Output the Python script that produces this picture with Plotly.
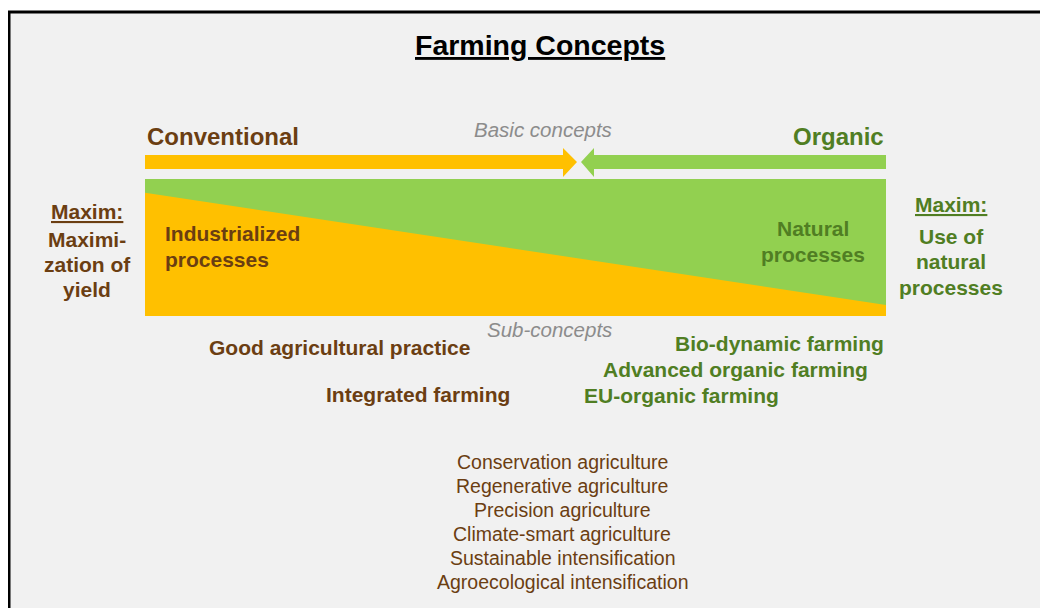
import plotly.graph_objects as go

# ---------------- data ----------------
title = "Farming Concepts"
basic_concepts = ["Conventional", "Organic"]
basic_label = "Basic concepts"
sub_label = "Sub-concepts"
left_maxim = ["Maximi-", "zation of", "yield"]
right_maxim = ["Use of", "natural", "processes"]
left_process = ["Industrialized", "processes"]
right_process = ["Natural", "processes"]
# share of the band that is "conventional" (orange) at left and right end
band_ends = [0.0, 1.0]
conventional_share = [0.90, 0.08]
conv_sub = ["Good agricultural practice", "Integrated farming"]
org_sub = ["Bio-dynamic farming", "Advanced organic farming", "EU-organic farming"]
other_concepts = [
    "Conservation agriculture",
    "Regenerative agriculture",
    "Precision agriculture",
    "Climate-smart agriculture",
    "Sustainable intensification",
    "Agroecological intensification",
]

# ---------------- style ----------------
W, H = 1048, 608
OFF = 8  # page body margin
ORANGE = "#FFC000"
GREEN = "#92D050"
BROWN = "#6B3E12"
DGREEN = "#507E23"
GRAY = "#8C8C8C"
BG = "#F1F1F1"
FONT = "Liberation Sans, Arial, sans-serif"

X0, X1 = 145, 886          # band extent
BT, BB = 179, 316          # band top / bottom

fig = go.Figure()

# band: green full, orange wedge
fig.add_trace(go.Scatter(x=[X0, X1, X1, X0], y=[BT, BT, BB, BB], fill="toself",
                         fillcolor=GREEN, line=dict(width=0), mode="lines",
                         hoverinfo="skip", showlegend=False))
bx = [X0 + f * (X1 - X0) for f in band_ends]
by = [BB - s * (BB - BT) for s in conventional_share]
fig.add_trace(go.Scatter(x=[bx[0], bx[1], bx[1], bx[0]], y=[by[0], by[1], BB, BB],
                         fill="toself", fillcolor=ORANGE, line=dict(width=0),
                         mode="lines", hoverinfo="skip", showlegend=False))

# arrows
ay0, ay1, hy0, hy1 = 155, 169, 148, 177
amid = (ay0 + ay1) / 2
ox = [X0, 563, 563, 577, 563, 563, X0]
oy = [ay0, ay0, hy0, amid, hy1, ay1, ay1]
fig.add_trace(go.Scatter(x=ox, y=oy, fill="toself", fillcolor=ORANGE,
                         line=dict(width=0), mode="lines", hoverinfo="skip",
                         showlegend=False))
gx = [X1, 594, 594, 581, 594, 594, X1]
fig.add_trace(go.Scatter(x=gx, y=oy, fill="toself", fillcolor=GREEN,
                         line=dict(width=0), mode="lines", hoverinfo="skip",
                         showlegend=False))

ann = []


def txt(text, x, y, size, color, bold=True, italic=False, xanchor="center"):
    t = text
    if bold:
        t = "<b>" + t + "</b>"
    if italic:
        t = "<i>" + t + "</i>"
    ann.append(dict(text=t, x=x, y=y, xref="x", yref="y", showarrow=False,
                    xanchor=xanchor, yanchor="middle",
                    font=dict(family=FONT, size=size, color=color)))


txt("<u>" + title + "</u>", 540, 45, 28.5, "#000000")
txt(basic_concepts[0], 145, 136, 24, BROWN, xanchor="left")
txt(basic_concepts[1], 886, 136, 24, DGREEN, xanchor="right")
txt(basic_label, 543, 129, 20.5, GRAY, bold=False, italic=True)
txt(sub_label, 549, 329, 20.5, GRAY, bold=False, italic=True)

txt("<u>Maxim:</u>", 87, 211, 21, BROWN)
for i, s in enumerate(left_maxim):
    txt(s, 87, 239 + i * 25, 21, BROWN)
txt("<u>Maxim:</u>", 951, 204, 21, DGREEN)
for i, s in enumerate(right_maxim):
    txt(s, 951, 236 + i * 25.5, 21, DGREEN)

for i, s in enumerate(left_process):
    txt(s, 163, 233 + i * 26, 21, BROWN, xanchor="left")
for i, s in enumerate(right_process):
    txt(s, 813, 228 + i * 26, 21, DGREEN)

txt(conv_sub[0], 339, 347, 21, BROWN)
txt(conv_sub[1], 418, 394, 21, BROWN)
txt(org_sub[0], 886, 343, 21, DGREEN, xanchor="right")
txt(org_sub[1], 870, 369, 21, DGREEN, xanchor="right")
txt(org_sub[2], 681, 395, 21, DGREEN)

for i, s in enumerate(other_concepts):
    txt(s, 562, 462 + i * 24, 19.5, BROWN, bold=False)

shapes = [
    dict(type="rect", xref="x", yref="y", x0=10, x1=W + 5, y0=12, y1=H + 5,
         fillcolor=BG, line=dict(width=0), layer="below"),
    dict(type="line", xref="x", yref="y", x0=9, x1=9, y0=11, y1=H + 5,
         line=dict(color="#000000", width=3)),
    dict(type="line", xref="x", yref="y", x0=8, x1=W + 5, y0=12, y1=12,
         line=dict(color="#000000", width=3)),
]

# the page body has an 8px margin: the figure starts at page (8, 8)
fig.update_layout(
    width=W - OFF, height=H - OFF, margin=dict(l=0, r=0, t=0, b=0),
    paper_bgcolor="#FFFFFF", plot_bgcolor="rgba(0,0,0,0)",
    xaxis=dict(range=[OFF, W], visible=False, fixedrange=True),
    yaxis=dict(range=[H, OFF], visible=False, fixedrange=True),
    annotations=ann, shapes=shapes, showlegend=False,
)

fig.write_html("out.html")
